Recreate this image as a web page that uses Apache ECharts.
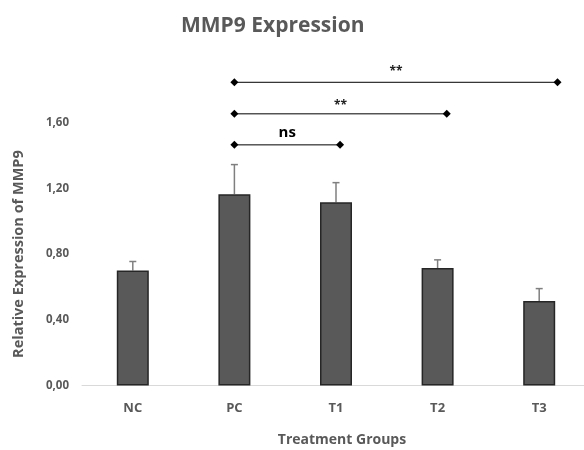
<!DOCTYPE html>
<html><head><meta charset="utf-8">
<script src="https://cdn.jsdelivr.net/npm/echarts@6/dist/echarts.min.js"></script>
<style>html,body{margin:0;padding:0;background:#fff}#c{width:584px;height:450px}</style>
</head><body><div id="c"></div>
<script>
const categories = ['NC', 'PC', 'T1', 'T2', 'T3'];
const means = [0.70, 1.165, 1.115, 0.715, 0.515];
const errors = [0.055, 0.18, 0.12, 0.05, 0.075];
const yTicks = [0, 0.4, 0.8, 1.2, 1.6];
// significance brackets: start position, end position, height, label
const bracketStart = [1.0, 1.0, 1.0];
const bracketEnd = [2.04, 3.09, 4.18];
const bracketLevel = [1.465, 1.654, 1.846];
const bracketLabel = ['ns', '**', '**'];

const font = 'Open Sans';
const grey = '#595959';
const chart = echarts.init(document.getElementById('c'));

function diamond(x, y, r) {
  return { type: 'polygon', shape: { points: [[x - r, y], [x, y - r], [x + r, y], [x, y + r]] },
    style: { fill: '#000' } };
}

chart.setOption({
  animation: false,
  title: {
    text: 'MMP9 Expression', left: 176, top: 11,
    textStyle: { fontFamily: font, fontWeight: 'bold', fontSize: 21, color: grey }
  },
  grid: { left: 82, right: -6, top: 122.7, bottom: 64.5, containLabel: false, outerBoundsMode: 'none' },
  xAxis: [{
    type: 'category', data: categories,
    axisLine: { lineStyle: { color: '#d9d9d9', width: 1 } },
    axisTick: { show: false },
    axisLabel: { color: grey, fontFamily: font, fontWeight: 'bold', fontSize: 13, margin: 16 },
    name: 'Treatment Groups', nameLocation: 'middle', nameGap: 48,
    nameTextStyle: { color: grey, fontFamily: font, fontWeight: 'bold', fontSize: 14, padding: [0, 0, 0, 12] }
  }, {
    type: 'value', min: -0.5, max: 4.5, show: false
  }],
  yAxis: {
    type: 'value', min: 0, max: 1.6, interval: 0.4,
    splitLine: { show: false },
    axisLine: { show: false }, axisTick: { show: false },
    axisLabel: { color: grey, fontFamily: font, fontWeight: 'bold', fontSize: 11.5, margin: 13,
      formatter: v => yTicks.includes(Math.round(v * 10) / 10) ? v.toFixed(2).replace('.', ',') : '' },
    name: 'Relative Expression of MMP9', nameLocation: 'middle', nameGap: 56,
    nameTextStyle: { color: grey, fontFamily: font, fontWeight: 'bold', fontSize: 14.5 }
  },
  series: [{
    type: 'bar', data: means, barWidth: 32,
    itemStyle: { color: '#595959', borderColor: '#262626', borderWidth: 1.5 }
  }, {
    type: 'custom',
    data: means.map((m, i) => [i, m, m + errors[i]]),
    z: 1,
    renderItem: (params, api) => {
      const base = api.coord([api.value(0), api.value(1)]);
      const top = api.coord([api.value(0), api.value(2)]);
      return { type: 'group', children: [
        { type: 'line', shape: { x1: base[0], y1: base[1], x2: top[0], y2: top[1] },
          style: { stroke: '#7f7f7f', lineWidth: 1.5 } },
        { type: 'line', shape: { x1: top[0] - 3.5, y1: top[1], x2: top[0] + 3.5, y2: top[1] },
          style: { stroke: '#7f7f7f', lineWidth: 1.5 } }
      ] };
    }
  }, {
    type: 'custom',
    xAxisIndex: 1,
    clip: false,
    silent: true,
    data: bracketLabel.map((l, i) => [bracketStart[i], bracketEnd[i], bracketLevel[i]]),
    renderItem: (params, api) => {
      const a = api.coord([api.value(0), api.value(2)]);
      const b = api.coord([api.value(1), api.value(2)]);
      const lab = bracketLabel[params.dataIndex];
      const off = [12, 8, 11][params.dataIndex];
      return { type: 'group', children: [
        { type: 'line', shape: { x1: a[0], y1: a[1], x2: b[0], y2: b[1] },
          style: { stroke: '#000', lineWidth: 1 } },
        diamond(a[0], a[1], 4), diamond(b[0], b[1], 4),
        { type: 'text', x: (a[0] + b[0]) / 2, y: a[1] - off,
          style: { text: lab, fill: lab === 'ns' ? '#000' : '#222', fontFamily: font, fontWeight: 'bold',
            fontSize: lab === 'ns' ? 15 : 12, align: 'center', verticalAlign: 'middle' } }
      ] };
    }
  }]
});
</script></body></html>
